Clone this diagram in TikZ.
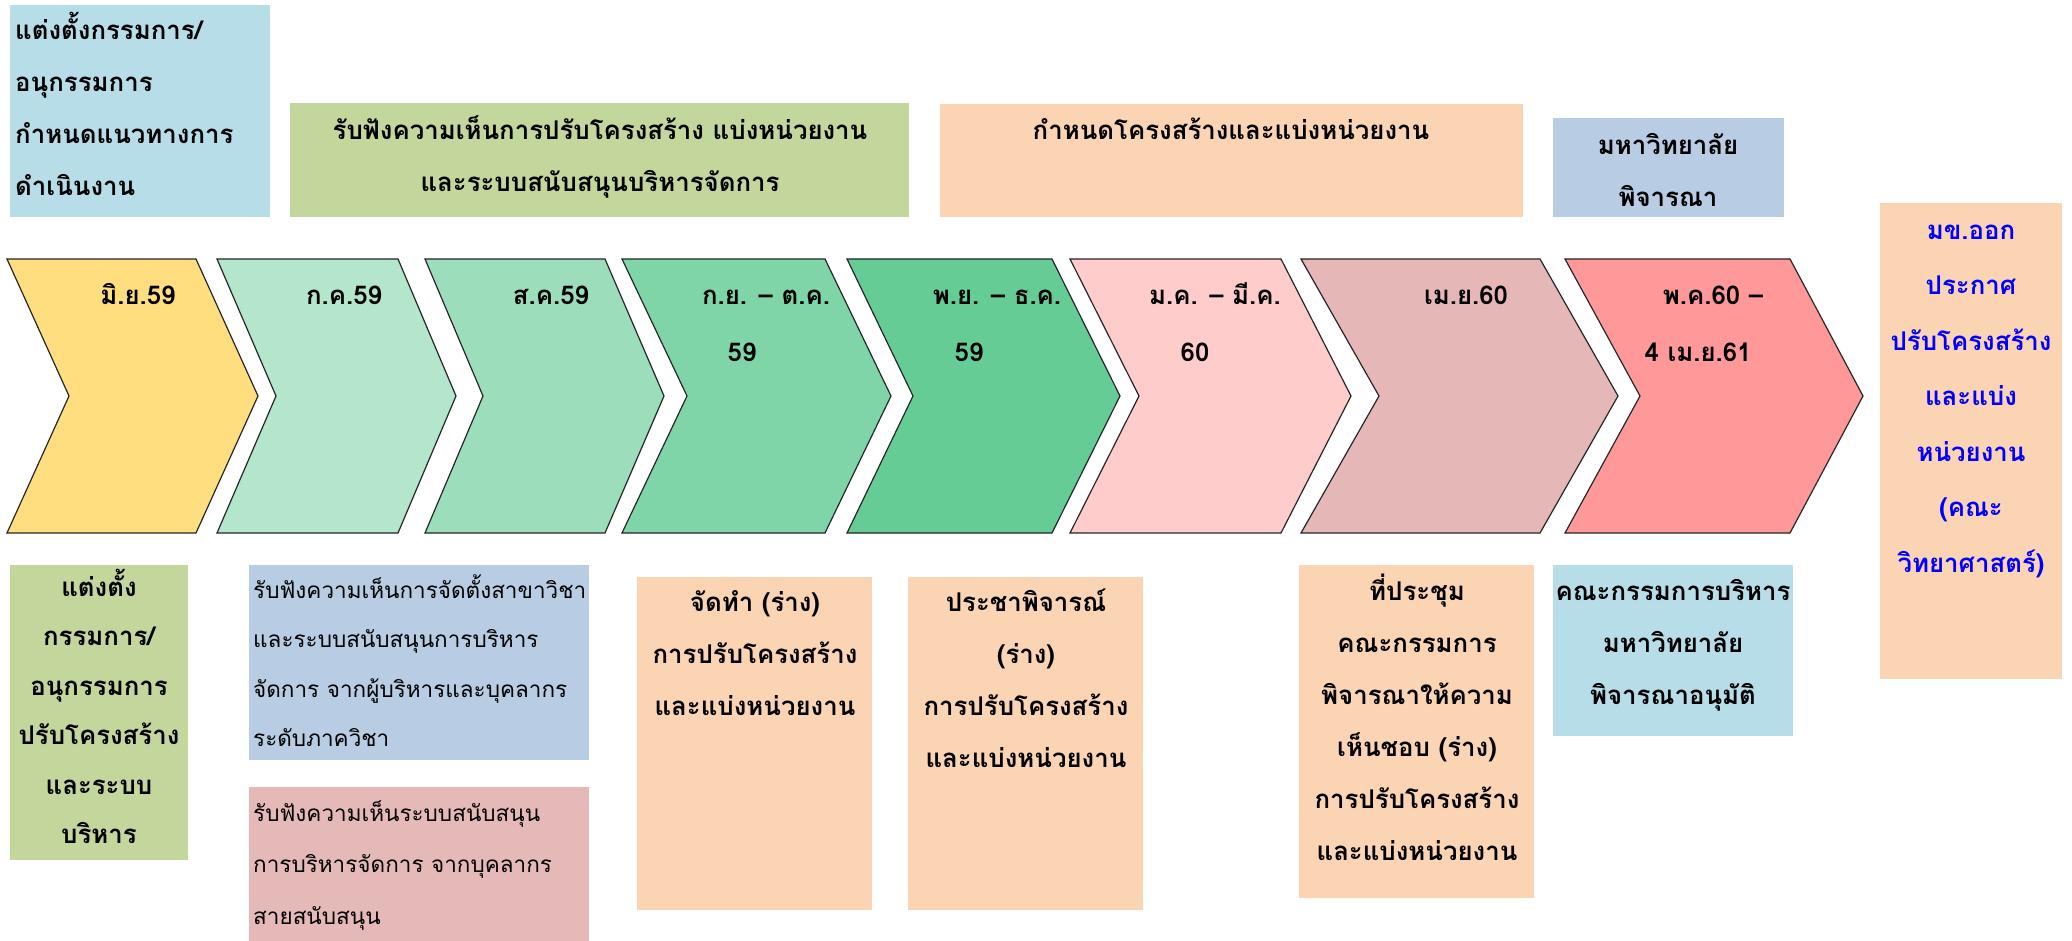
\documentclass[tikz,border=0pt]{standalone}
\usepackage{fontspec}
\newfontfamily\thaifont[Script=Thai]{Loma}
\usepackage{tikz}
\tikzset{>=latex}

\definecolor{chYellow}{HTML}{FFDE80}
\definecolor{chMintA}{HTML}{B3E6CA}
\definecolor{chMintB}{HTML}{9CDDBC}
\definecolor{chMintC}{HTML}{80D5A8}
\definecolor{chMintD}{HTML}{66CC95}
\definecolor{chRoseA}{HTML}{FFCCCC}
\definecolor{chRoseB}{HTML}{E5B8B7}
\definecolor{chRoseC}{HTML}{FF9999}
\definecolor{boxAqua}{HTML}{B7DEE8}
\definecolor{boxOlive}{HTML}{C3D69B}
\definecolor{boxPeach}{HTML}{FBD4B4}
\definecolor{boxSteel}{HTML}{B8CCE4}
\definecolor{boxRose}{HTML}{E5B9B7}

\tikzset{chev/.style={draw=black!85, line width=1.2pt}}
\tikzset{date/.style={font=\thaifont\bfseries\fontsize{25.8}{52}\selectfont, anchor=base, inner sep=0pt}}
\tikzset{txt/.style={font=\thaifont\bfseries\fontsize{25.8}{#1}\selectfont, align=center, anchor=base, inner sep=0pt}, txt/.default=52}
\tikzset{txtl/.style={font=\thaifont\fontsize{22.5}{#1}\selectfont, align=left, anchor=base west, inner sep=0pt}, txtl/.default=52}

\begin{document}
\begin{tikzpicture}[x=1pt, y=-1pt]
    \useasboundingbox (0,0) rectangle (2072,941);
    % chevrons
    \draw[chev, fill=chYellow](7,259)--(196,259)--(258,396)--(196,533)--(7,533)--(69,396)--cycle;
    \draw[chev, fill=chMintA](217,259)--(398,259)--(456,396)--(398,533)--(217,533)--(276,396)--cycle;
    \draw[chev, fill=chMintB](425,259)--(605,259)--(664,396)--(605,533)--(425,533)--(483,396)--cycle;
    \draw[chev, fill=chMintC](622,259)--(825,259)--(891,396)--(825,533)--(622,533)--(687,396)--cycle;
    \draw[chev, fill=chMintD](847,259)--(1052,259)--(1120,396)--(1052,533)--(847,533)--(913,396)--cycle;
    \draw[chev, fill=chRoseA](1070,259)--(1281,259)--(1351,396)--(1281,533)--(1070,533)--(1139,396)--cycle;
    \draw[chev, fill=chRoseB](1301,259)--(1540,259)--(1618,396)--(1540,533)--(1301,533)--(1379,396)--cycle;
    \draw[chev, fill=chRoseC](1565,259)--(1790,259)--(1863,396)--(1790,533)--(1565,533)--(1640,396)--cycle;
    % dates
    \node[date] (jun) at (138,305) {มิ.ย.59};
    \node[date] (jul) at (344,305) {ก.ค.59};
    \node[date] (aug) at (551,305) {ส.ค.59};
    \node[date] (sepoct) at (766,305) {ก.ย. – ต.ค.};
    \node[date] (sepoctyr) at (742,361) {59};
    \node[date] (novdec) at (997,305) {พ.ย. – ธ.ค.};
    \node[date] (novdecyr) at (969,361) {59};
    \node[date] (janmar) at (1215,305) {ม.ค. – มี.ค.};
    \node[date] (janmaryr) at (1195,361) {60};
    \node[date] (apr) at (1466,305) {เม.ย.60};
    \node[date] (mayfrom) at (1713,305) {พ.ค.60 –};
    \node[date] (mayto) at (1698,361) {4 เม.ย.61};
    % upper boxes
    \fill[boxAqua](10,5) rectangle (270,217);
    \node[txtl, font=\thaifont\bfseries\fontsize{25.8}{52}\selectfont] (plan) at (15,196) {แต่งตั้งกรรมการ/\\อนุกรรมการ\\กำหนดแนวทางการ\\ดำเนินงาน};
    \fill[boxOlive](290,103) rectangle (909,217);
    \node[txt] (hear) at (600,192) {รับฟังความเห็นการปรับโครงสร้าง แบ่งหน่วยงาน\\และระบบสนับสนุนบริหารจัดการ};
    \fill[boxPeach](940,104) rectangle (1523,217);
    \node[txt] (define) at (1231,140) {กำหนดโครงสร้างและแบ่งหน่วยงาน};
    \fill[boxSteel](1553,118) rectangle (1784,217);
    \node[txt] (univ) at (1668,207) {มหาวิทยาลัย\\พิจารณา};
    \fill[boxPeach](1880,203) rectangle (2062,679);
    \node[txt=55.5, text=blue] (announce) at (1971,572) {มข.ออก\\ประกาศ\\ปรับโครงสร้าง\\และแบ่ง\\หน่วยงาน\\(คณะ\\วิทยาศาสตร์)};
    % lower boxes
    \fill[boxOlive](10,565) rectangle (188,860);
    \node[txt=49.5] (appoint) at (99,843.5) {แต่งตั้ง\\กรรมการ/\\อนุกรรมการ\\ปรับโครงสร้าง\\และระบบ\\บริหาร};
    \fill[boxSteel](249,565) rectangle (589,760);
    \node[txtl=49.5] (deptview) at (253,746.5) {รับฟังความเห็นการจัดตั้งสาขาวิชา\\และระบบสนับสนุนการบริหาร\\จัดการ จากผู้บริหารและบุคลากร\\ระดับภาควิชา};
    \fill[boxRose](249,787) rectangle (589,941);
    \node[txtl=51.5] (staffview) at (253,924) {รับฟังความเห็นระบบสนับสนุน\\การบริหารจัดการ จากบุคลากร\\สายสนับสนุน};
    \fill[boxPeach](637,577) rectangle (872,910);
    \node[txt] (draft) at (755,715) {จัดทำ (ร่าง)\\การปรับโครงสร้าง\\และแบ่งหน่วยงาน};
    \fill[boxPeach](908,577) rectangle (1143,910);
    \node[txt] (public) at (1026,767) {ประชาพิจารณ์\\(ร่าง)\\การปรับโครงสร้าง\\และแบ่งหน่วยงาน};
    \fill[boxPeach](1299,565) rectangle (1534,898);
    \node[txt] (meeting) at (1417,860) {ที่ประชุม\\คณะกรรมการ\\พิจารณาให้ความ\\เห็นชอบ (ร่าง)\\การปรับโครงสร้าง\\และแบ่งหน่วยงาน};
    \fill[boxAqua](1553,565) rectangle (1793,736);
    \node[txt] (board) at (1673,704) {คณะกรรมการบริหาร\\มหาวิทยาลัย\\พิจารณาอนุมัติ};
\end{tikzpicture}
\end{document}
